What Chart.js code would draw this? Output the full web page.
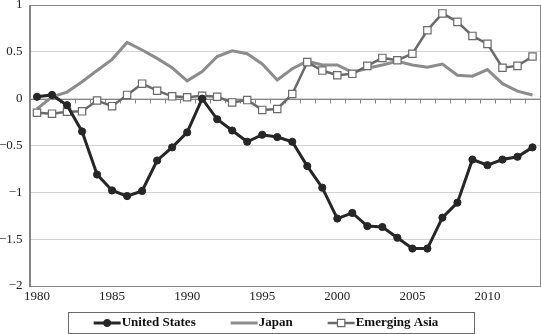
<!DOCTYPE html>
<html>
<head>
<meta charset="utf-8">
<script src="https://cdn.jsdelivr.net/npm/chart.js@4.4.1/dist/chart.umd.min.js"></script>
<style>
  html, body { margin: 0; padding: 0; background: #fff; overflow: hidden; }
  canvas { display: block; }
</style>
</head>
<body>
<canvas id="c" width="541" height="334"></canvas>
<script>
// Current account balances, per cent of world GDP
const years = [1980, 1981, 1982, 1983, 1984, 1985, 1986, 1987, 1988, 1989,
               1990, 1991, 1992, 1993, 1994, 1995, 1996, 1997, 1998, 1999,
               2000, 2001, 2002, 2003, 2004, 2005, 2006, 2007, 2008, 2009,
               2010, 2011, 2012, 2013];

const unitedStates = [0.02, 0.04, -0.07, -0.35, -0.81, -0.98, -1.04, -0.985, -0.66, -0.52,
                      -0.36, 0.0, -0.22, -0.34, -0.46, -0.385, -0.41, -0.46, -0.72, -0.95,
                      -1.28, -1.22, -1.36, -1.37, -1.485, -1.60, -1.60, -1.27, -1.11, -0.65,
                      -0.71, -0.65, -0.62, -0.52];

const japan = [-0.11, 0.02, 0.07, 0.18, 0.30, 0.42, 0.60, 0.52, 0.43, 0.33,
               0.19, 0.29, 0.45, 0.51, 0.48, 0.37, 0.20, 0.32, 0.40, 0.36,
               0.36, 0.28, 0.325, 0.36, 0.40, 0.36, 0.335, 0.37, 0.25, 0.24,
               0.31, 0.16, 0.08, 0.04];

const emergingAsia = [-0.15, -0.16, -0.14, -0.135, -0.02, -0.08, 0.04, 0.16, 0.085, 0.025,
                      0.015, 0.03, 0.02, -0.04, -0.015, -0.12, -0.11, 0.05, 0.39, 0.30,
                      0.25, 0.265, 0.35, 0.435, 0.41, 0.48, 0.73, 0.91, 0.82, 0.67,
                      0.585, 0.33, 0.35, 0.45];

const seriesNames = ['United States', 'Japan', 'Emerging Asia'];
const yMin = -2, yMax = 1, yStep = 0.5;
const labelEvery = 5;

const SERIF = '"Liberation Serif", "DejaVu Serif", serif';
const FRAME = '#858585';

function fmtY(v) {
  if (v === 0) return '0';
  return v < 0 ? '\u2212' + Math.abs(v) : String(v);
}

// Zero line with category tick marks, and the plot frame
const axisPlugin = {
  id: 'zeroAxis',
  beforeDatasetsDraw(chart) {
    const { ctx, chartArea: a, scales: { x, y } } = chart;
    const y0 = Math.round(y.getPixelForValue(0)) + 0.5;
    ctx.save();
    ctx.strokeStyle = FRAME;
    ctx.lineWidth = 1;
    ctx.beginPath();
    ctx.moveTo(a.left, y0);
    ctx.lineTo(a.right, y0);
    const half = (x.getPixelForValue(1) - x.getPixelForValue(0)) / 2;
    for (let i = 0; i <= years.length; i++) {
      const px = Math.round(x.getPixelForValue(i) - half) + 0.5;
      ctx.moveTo(px, y0);
      ctx.lineTo(px, y0 + 4);
    }
    ctx.stroke();
    ctx.strokeRect(Math.round(a.left) + 0.5, Math.round(a.top) + 0.5,
                   Math.round(a.right - a.left) - 1, Math.round(a.bottom - a.top));
    ctx.restore();
  }
};

// Boxed legend below the axis labels
const legendPlugin = {
  id: 'boxLegend',
  afterDraw(chart) {
    const ctx = chart.ctx;
    const ds = chart.data.datasets;
    const box = { left: 68, top: 312, width: 406, height: 21 };
    const sample = 27, gap = 1, between = 35, center = 266;
    ctx.save();
    ctx.font = 'bold 13px ' + SERIF;
    const widths = ds.map(d => sample + gap + ctx.measureText(d.label).width);
    const total = widths.reduce((s, w) => s + w, 0) + between * (ds.length - 1);
    let x = center - total / 2;
    const ym = box.top + box.height / 2 + 0.5;
    ds.forEach((d, i) => {
      ctx.strokeStyle = d.borderColor;
      ctx.lineWidth = d.borderWidth;
      ctx.beginPath();
      ctx.moveTo(x, ym);
      ctx.lineTo(x + sample, ym);
      ctx.stroke();
      const mx = x + sample / 2;
      if (d.pointRadius > 0) {
        ctx.fillStyle = d.pointBackgroundColor;
        ctx.strokeStyle = d.pointBorderColor;
        ctx.lineWidth = d.pointBorderWidth;
        ctx.beginPath();
        if (d.pointStyle === 'rect') {
          const s = Math.SQRT1_2 * d.pointRadius;
          ctx.rect(mx - s, ym - s, 2 * s, 2 * s);
        } else {
          ctx.arc(mx, ym, d.pointRadius, 0, Math.PI * 2);
        }
        ctx.fill();
        ctx.stroke();
      }
      ctx.fillStyle = '#111';
      ctx.textBaseline = 'middle';
      ctx.textAlign = 'left';
      ctx.fillText(d.label, x + sample + gap, ym);
      x += widths[i] + between;
    });
    ctx.strokeStyle = '#6a6a6a';
    ctx.lineWidth = 1;
    ctx.strokeRect(box.left + 0.5, box.top + 0.5, box.width, box.height);
    ctx.restore();
  }
};

new Chart(document.getElementById('c'), {
  type: 'line',
  data: {
    labels: years,
    datasets: [
      {
        label: seriesNames[0],
        data: unitedStates,
        order: 0,
        borderColor: '#262626',
        borderWidth: 3,
        pointStyle: 'circle',
        pointRadius: 3.6,
        pointBackgroundColor: '#262626',
        pointBorderColor: '#262626',
        pointBorderWidth: 1,
        tension: 0
      },
      {
        label: seriesNames[1],
        data: japan,
        order: 2,
        borderColor: '#8c8c8c',
        borderWidth: 3,
        pointRadius: 0,
        tension: 0
      },
      {
        label: seriesNames[2],
        data: emergingAsia,
        order: 1,
        borderColor: '#6a6a6a',
        borderWidth: 2.5,
        pointStyle: 'rect',
        pointRadius: 5.2,
        pointBackgroundColor: '#ffffff',
        pointBorderColor: '#6a6a6a',
        pointBorderWidth: 1.2,
        tension: 0
      }
    ]
  },
  options: {
    responsive: false,
    animation: false,
    devicePixelRatio: 1,
    layout: { autoPadding: false, padding: { top: 5, right: 1, bottom: 0, left: 0 } },
    plugins: {
      legend: { display: false },
      tooltip: { enabled: false }
    },
    scales: {
      x: {
        type: 'category',
        offset: true,
        grid: { display: false, drawTicks: false },
        border: { display: true, color: FRAME, width: 1 },
        ticks: {
          autoSkip: false,
          maxRotation: 0,
          padding: 3,
          color: '#222',
          font: { family: SERIF, size: 13 },
          callback: (v, i) => (years[i] % labelEvery === 0 ? String(years[i]) : '')
        },
        afterFit: s => { s.height = 48; s.paddingLeft = 0; s.paddingRight = 0; }
      },
      y: {
        min: yMin,
        max: yMax,
        grid: { color: '#d2d2d2', drawTicks: false },
        border: { display: true, color: FRAME, width: 1 },
        ticks: {
          stepSize: yStep,
          padding: 7,
          color: '#222',
          font: { family: SERIF, size: 13 },
          callback: v => fmtY(v)
        },
        afterFit: s => { s.width = 29.5; s.paddingTop = 0; s.paddingBottom = 0; }
      }
    }
  },
  plugins: [axisPlugin, legendPlugin]
});
</script>
</body>
</html>
